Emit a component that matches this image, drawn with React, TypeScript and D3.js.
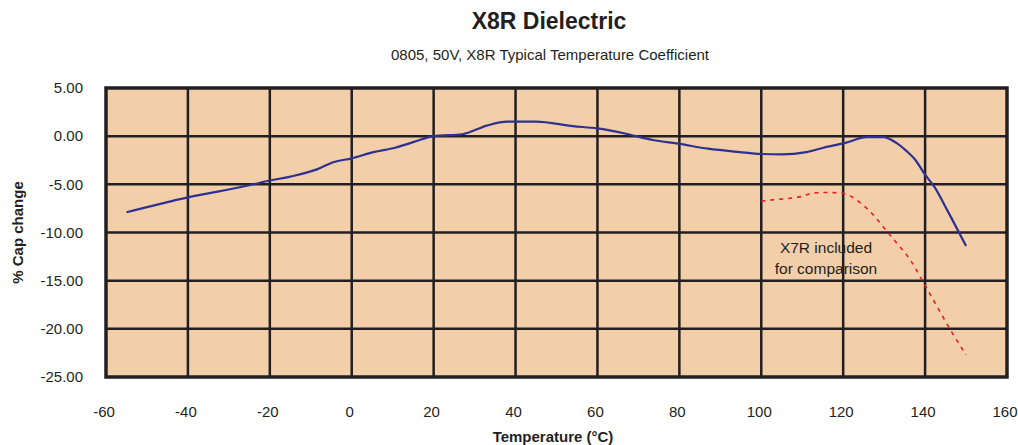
import * as d3 from 'd3'

// X8R curve (temperature °C, % cap change)
const x8rTemp = [-55, -40, -25, -20, -15, -8.5, -4.5, 0, 5.3, 10.6, 15, 20, 27, 33, 38, 45, 54, 60, 67, 73.5, 80, 87, 94.7, 100, 105, 111, 115.2, 120.5, 125.7, 129.8, 133, 135.5, 137.5, 140, 142.4, 145.3, 150]
const x8rValues = [-7.9, -6.35, -5.1, -4.6, -4.2, -3.45, -2.7, -2.3, -1.66, -1.2, -0.62, 0, 0.2, 1.1, 1.5, 1.5, 1.04, 0.8, 0.25, -0.4, -0.8, -1.3, -1.65, -1.85, -1.9, -1.66, -1.2, -0.7, -0.1, -0.1, -0.7, -1.55, -2.4, -4.0, -5.35, -7.6, -11.4]

// X7R comparison curve
const x7rTemp = [100, 103, 107, 110, 112.7, 116, 119.2, 121.7, 124.1, 127.4, 130.6, 133, 136.3, 139.6, 142.8, 146.1, 150]
const x7rValues = [-6.75, -6.6, -6.45, -6.25, -5.9, -5.85, -5.9, -6.2, -6.9, -8.2, -9.85, -11.06, -12.8, -15.2, -17.6, -20.05, -22.7]

const xTicks = [-60, -40, -20, 0, 20, 40, 60, 80, 100, 120, 140, 160]
const yTicks = [5, 0, -5, -10, -15, -20, -25]

const W = 1018
const H = 445
const margin = { left: 106, right: 11, top: 88, bottom: 68 }
const FONT = '"Liberation Sans", Arial, Helvetica, sans-serif'
const INK = '#231f20'

export default function App() {
  const x = d3.scaleLinear().domain([-60, 160]).range([margin.left, W - margin.right])
  const y = d3.scaleLinear().domain([-25, 5]).range([H - margin.bottom, margin.top])

  const line = d3.line<[number, number]>()
    .x(d => x(d[0]))
    .y(d => y(d[1]))
    .curve(d3.curveMonotoneX)

  const x8r = x8rTemp.map((t, i) => [t, x8rValues[i]] as [number, number])
  const x7r = x7rTemp.map((t, i) => [t, x7rValues[i]] as [number, number])

  const [x0, x1] = x.range()
  const [y0, y1] = y.range()
  const noteX = x(115.8)

  return (
    <svg width={W} height={H} style={{ position: 'absolute', left: 0, top: 0 }} fontFamily={FONT}>
      <rect x={0} y={0} width={W} height={H} fill="#fff" />
      {/* Titles */}
      <text x={549} y={29} textAnchor="middle" fontSize={23} fontWeight="bold" fill={INK}>X8R Dielectric</text>
      <text x={550} y={60} textAnchor="middle" fontSize={15} fill={INK}>0805, 50V, X8R Typical Temperature Coefficient</text>

      {/* Plot background */}
      <rect x={x0} y={y1} width={x1 - x0} height={y0 - y1} fill="#f2cea9" />

      {/* Grid */}
      {xTicks.slice(1, -1).map(t => (
        <line key={'gx' + t} x1={x(t)} x2={x(t)} y1={y1} y2={y0} stroke={INK} strokeWidth={2.5} />
      ))}
      {yTicks.slice(1, -1).map(t => (
        <line key={'gy' + t} x1={x0} x2={x1} y1={y(t)} y2={y(t)} stroke={INK} strokeWidth={2.5} />
      ))}
      <rect x={x0} y={y1} width={x1 - x0} height={y0 - y1} fill="none" stroke={INK} strokeWidth={3.5} />

      {/* Series */}
      <path d={line(x7r) ?? ''} fill="none" stroke="#ed1c24" strokeWidth={1.6} strokeDasharray="4 5" />
      <path d={line(x8r) ?? ''} fill="none" stroke="#2e3192" strokeWidth={2.2} />

      {/* Annotation */}
      <text x={noteX} y={y(-12.1)} textAnchor="middle" fontSize={15.5} fill={INK}>
        <tspan x={noteX} dy={0}>X7R included</tspan>
        <tspan x={noteX} dy={21}>for comparison</tspan>
      </text>

      {/* Y axis labels */}
      {yTicks.map(t => (
        <text key={'yl' + t} x={83} y={y(t)} dy="0.35em" textAnchor="end" fontSize={15} fill={INK}>
          {t.toFixed(2)}
        </text>
      ))}
      {/* X axis labels */}
      {xTicks.map(t => (
        <text key={'xl' + t} x={x(t) - 2} y={412} dy="0.35em" textAnchor="middle" fontSize={15} fill={INK}>
          {t}
        </text>
      ))}

      <text x={553} y={442} textAnchor="middle" fontSize={15} fontWeight="bold" fill={INK}>Temperature (°C)</text>
      <text transform={`translate(23, ${(y0 + y1) / 2}) rotate(-90)`} textAnchor="middle" fontSize={15} fontWeight="bold" fill={INK}>
        % Cap change
      </text>
    </svg>
  )
}
